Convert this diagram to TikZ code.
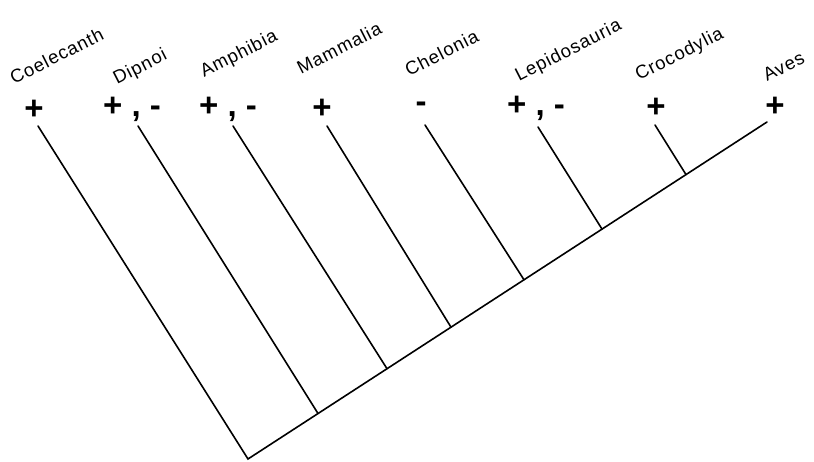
\documentclass[tikz,border=0pt]{standalone}
\usepackage{fontspec}
\setmainfont{Liberation Sans}
\newfontfamily\labelfont[LetterSpace=5]{Liberation Sans}
\begin{document}
\begin{tikzpicture}[x=1pt,y=1pt,
  branch/.style={line width=1.6pt,line cap=round},
  taxon/.style={anchor=base west,rotate=27,inner sep=0pt,font=\labelfont\fontsize{18.5}{18.5}\selectfont},
  statemark/.style={anchor=center,inner sep=0pt,font=\fontsize{33}{33}\selectfont\bfseries}]
% y values below are 462 minus the pixel row of the reference
\useasboundingbox (0,0) rectangle (814,462);
% tips and junctions
\coordinate (root) at (248,3);
\coordinate (tCoel) at (38,336);
\coordinate (tDip) at (138,336);
\coordinate (tAmp) at (233,336);
\coordinate (tMam) at (327,336);
\coordinate (tChe) at (425,337);
\coordinate (tLep) at (538,335);
\coordinate (tCro) at (655,337);
\coordinate (tAve) at (767,340);
\coordinate (jDip) at (318,48.5);
\coordinate (jAmp) at (387,93.3);
\coordinate (jMam) at (451,134.8);
\coordinate (jChe) at (524,182.2);
\coordinate (jLep) at (602,232.9);
\coordinate (jCro) at (686,287.4);
% branches
\draw[branch] (tCoel) -- (root) -- (tAve);
\draw[branch] (tDip) -- (jDip);
\draw[branch] (tAmp) -- (jAmp);
\draw[branch] (tMam) -- (jMam);
\draw[branch] (tChe) -- (jChe);
\draw[branch] (tLep) -- (jLep);
\draw[branch] (tCro) -- (jCro);
% taxon labels
\node[taxon] (lCoel) at (14,377) {Coelecanth};
\node[taxon] (lDip) at (117,377) {Dipnoi};
\node[taxon] (lAmp) at (204,384) {Amphibia};
\node[taxon] (lMam) at (301,387) {Mammalia};
\node[taxon] (lChe) at (409,385) {Chelonia};
\node[taxon] (lLep) at (519,380) {Lepidosauria};
\node[taxon] (lCro) at (639,381) {Crocodylia};
\node[taxon] (lAve) at (767,380) {Aves};
% character states
\node[statemark] (mCoel) at (34,352) {+};
\node[statemark] (mDip) at (132,353) {+ , -};
\node[statemark] (mAmp) at (228,353) {+ , -};
\node[statemark] (mMam) at (322,353) {+};
\node[statemark] (mChe) at (421,355) {-};
\node[statemark] (mLep) at (536,354) {+ , -};
\node[statemark] (mCro) at (656,354) {+};
\node[statemark] (mAve) at (775,355) {+};
\end{tikzpicture}
\end{document}
